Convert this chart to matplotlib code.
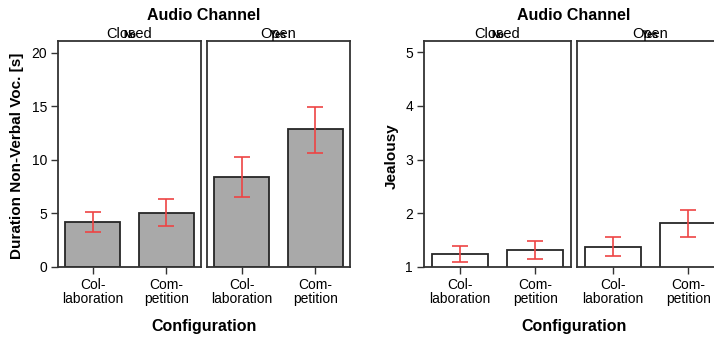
import matplotlib.pyplot as plt

plt.rcParams['font.family'] = ['Liberation Sans', 'DejaVu Sans']

configs = ["Col-\nlaboration", "Com-\npetition"]
channels = ["Closed", "Open"]
channels_alt = ["No", "Yes"]

# duration of non-verbal vocalisations (mean, lower / upper error)
dur_mean = {"Closed": [4.18, 5.07], "Open": [8.41, 12.87]}
dur_low = {"Closed": [3.24, 3.80], "Open": [6.54, 10.68]}
dur_high = {"Closed": [5.11, 6.33], "Open": [10.25, 14.95]}

# jealousy ratings
jel_mean = {"Closed": [1.243, 1.32], "Open": [1.38, 1.82]}
jel_low = {"Closed": [1.10, 1.157], "Open": [1.21, 1.56]}
jel_high = {"Closed": [1.39, 1.48], "Open": [1.56, 2.07]}

W, H = 714, 338
fig = plt.figure(figsize=(W / 100, H / 100), dpi=100)

def px_axes(x0, x1, y0, y1):
    return fig.add_axes([x0 / W, 1 - y1 / H, (x1 - x0) / W, (y1 - y0) / H])

def facet(ax, means, low, high, ylim, yticks, color, show_y):
    xs = [0, 1]
    ax.bar(xs, means, width=0.74, color=color, edgecolor='#262626', linewidth=1.3, zorder=2)
    err = [[m - l for m, l in zip(means, low)], [h - m for h, m in zip(high, means)]]
    ax.errorbar(xs, means, yerr=err, fmt='none', ecolor='#ee4444', elinewidth=1.2,
                capsize=6, capthick=1.2, zorder=3)
    ax.set_xlim(-0.47, 1.47)
    ax.set_ylim(*ylim)
    ax.set_xticks(xs)
    ax.set_xticklabels(configs, fontsize=10, linespacing=0.95)
    ax.set_yticks(yticks)
    for s in ax.spines.values():
        s.set_color('#333333')
        s.set_linewidth(1.3)
    ax.tick_params(length=5, width=1, color='#333333', labelsize=10, pad=3)
    if not show_y:
        ax.tick_params(axis='y', left=False, labelleft=False)

def panel(xs_px, means, low, high, ylim, yticks, color, ylabel, ylabel_x):
    axes = []
    for i, (ch, alt) in enumerate(zip(channels, channels_alt)):
        x0, x1 = xs_px[i]
        ax = px_axes(x0, x1, 41, 267)
        facet(ax, means[ch], low[ch], high[ch], ylim, yticks, color, i == 0)
        cx = (x0 + x1) / 2
        # both facet label sets are printed on top of each other
        fig.text(cx / W, 1 - 34 / H, ch, ha='center', va='center', fontsize=10.5)
        fig.text(cx / W, 1 - 35 / H, alt, ha='center', va='center', fontsize=7,
                 fontweight='bold')
        axes.append(ax)
    cx = (xs_px[0][0] + xs_px[1][1]) / 2
    fig.text(cx / W, 1 - 15 / H, "Audio Channel", ha='center', va='center',
             fontsize=11.5, fontweight='bold')
    fig.text(cx / W, 1 - 327 / H, "Configuration", ha='center', va='center',
             fontsize=11.5, fontweight='bold')
    fig.text(ylabel_x / W, 1 - 156 / H, ylabel, ha='center', va='center',
             rotation=90, fontsize=11, fontweight='bold')
    return axes

panel([(58, 201), (207, 350)], dur_mean, dur_low, dur_high, (0, 21.12),
      [0, 5, 10, 15, 20], '#a9a9a9', "Duration Non-Verbal Voc. [s]", 17)
panel([(424, 571), (577, 724)], jel_mean, jel_low, jel_high, (1, 5.21),
      [1, 2, 3, 4, 5], 'white', "Jealousy", 392)

fig.savefig("out.png", dpi=100)
